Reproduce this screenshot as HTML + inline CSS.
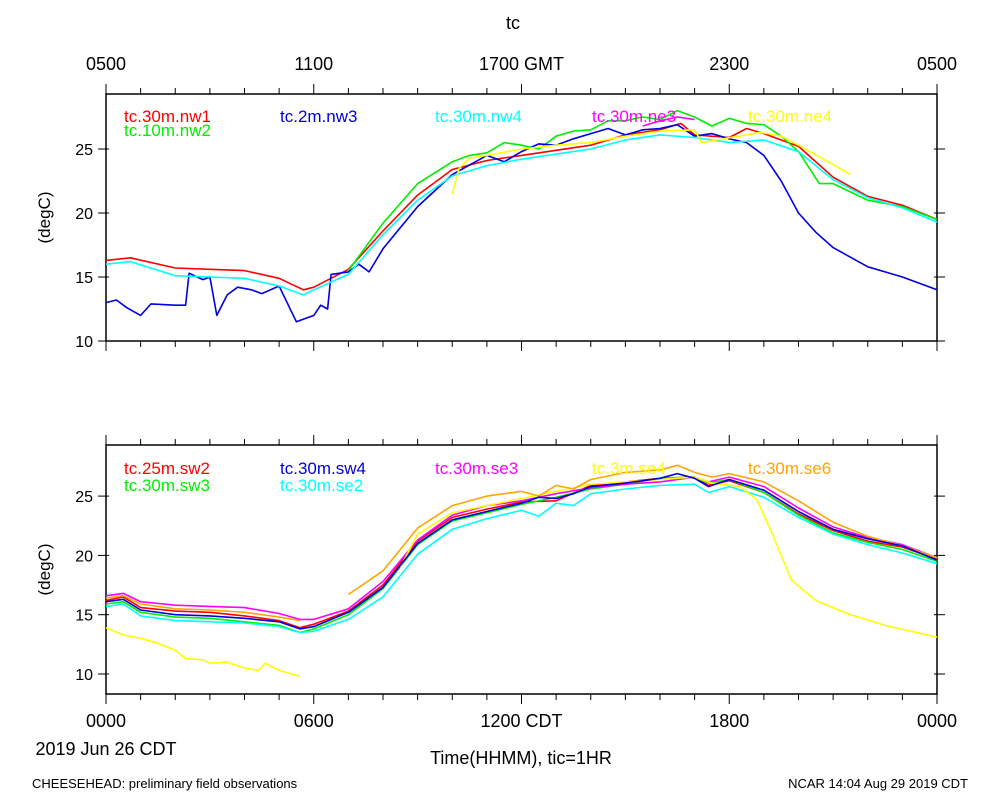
<!DOCTYPE html>
<html><head><meta charset="utf-8"><style>
html,body{margin:0;padding:0;background:#fff;}
svg{display:block;font-family:"Liberation Sans",sans-serif;}
</style></head><body>
<svg id="chart" width="1000" height="800" viewBox="0 0 1000 800">
<rect width="1000" height="800" fill="#fff"/>
<text x="513" y="29" font-size="18" text-anchor="middle">tc</text>
<g id="topaxis"></g>
<g id="p1"></g>
<g id="p2"></g>
<g id="botaxis"></g>
<text x="106" y="755" font-size="18" text-anchor="middle">2019 Jun 26 CDT</text>
<text x="521" y="764" font-size="18" text-anchor="middle">Time(HHMM), tic=1HR</text>
<text x="32" y="788" font-size="13">CHEESEHEAD: preliminary field observations</text>
<text x="968" y="788" font-size="13" text-anchor="end">NCAR 14:04 Aug 29 2019 CDT</text>
</svg>
<script>
// ---- data ----
const gmtTickLabels = ["0500","1100","1700 GMT","2300","0500"];
const cdtTickLabels = ["0000","0600","1200 CDT","1800","0000"];
const yTicks = [10,15,20,25];

// top panel
const nw1Hours = [0,0.7,2,3,4,5,5.7,6,7,8,9,10,11,12,13,14,15,16,16.6,17,18,18.5,19,20,21,22,23,24];
const nw1Temps = [16.3,16.5,15.7,15.6,15.5,14.9,14.0,14.2,15.6,18.6,21.4,23.4,24.1,24.5,24.9,25.3,26.1,26.5,27.0,26.1,25.9,26.6,26.2,25.2,22.8,21.3,20.6,19.5];
const nw2Hours = [7,8,9,10,10.5,11,11.5,12,12.5,13,13.5,14,14.5,15,15.5,16,16.5,17,17.5,18,18.5,19,19.5,20,20.6,21,22,23,24];
const nw2Temps = [15.5,19.2,22.3,24.0,24.5,24.7,25.5,25.3,25.0,26.0,26.4,26.5,27.2,27.2,27.5,27.3,28.0,27.5,26.8,27.4,27.0,26.9,26.0,24.8,22.3,22.3,21.0,20.5,19.5];
const nw3Hours = [0,0.3,0.6,1,1.3,2,2.3,2.4,2.8,3,3.2,3.5,3.8,4.2,4.5,5,5.5,6,6.2,6.4,6.5,7,7.3,7.6,8,9,10,11,11.5,12,12.5,13,13.5,14,14.5,15,15.5,16,16.5,17,17.5,18,18.5,19,19.5,20,20.5,21,22,23,24];
const nw3Temps = [13.0,13.2,12.6,12.0,12.9,12.8,12.8,15.3,14.8,15.0,12.0,13.6,14.2,14.0,13.7,14.3,11.5,12.0,12.8,12.5,15.2,15.4,16.0,15.4,17.2,20.5,23.0,24.5,24.0,24.8,25.4,25.3,25.8,26.2,26.6,26.1,26.5,26.6,26.9,26.0,26.2,25.8,25.5,24.5,22.5,20.0,18.5,17.3,15.8,15.0,14.0];
const nw4Hours = [0,0.7,2,3,4,5,5.7,6,7,8,9,10,11,12,13,14,15,16,17,18,19,20,21,22,23,24];
const nw4Temps = [16.0,16.2,15.1,15.0,14.9,14.3,13.6,14.0,15.2,18.3,21.0,22.9,23.7,24.2,24.6,25.0,25.7,26.1,25.9,25.5,25.7,24.8,22.6,21.2,20.4,19.3];
const ne3Hours = [15.5,16,16.5,17];
const ne3Temps = [26.8,27.2,27.5,27.3];
const ne4Hours = [10,10.2,10.5,11,12,13,14,15,16,17,17.2,18.9,19.5,20,21,21.5];
const ne4Temps = [21.5,23.5,24.3,24.5,25.0,25.3,25.5,26.0,26.4,26.5,25.5,26.3,26.0,25.3,23.8,23.0];

// bottom panel
const sw2Hours = [0,0.5,1,2,3,4,5,5.6,6,7,8,9,10,11,12,13,14,15,16,17,17.4,18,19,20,21,22,23,24];
const sw2Temps = [16.2,16.5,15.6,15.3,15.2,14.9,14.5,13.9,14.2,15.3,17.5,21.2,23.2,23.9,24.5,24.6,25.9,26.2,26.5,26.6,25.9,26.3,25.3,23.5,22.1,21.2,20.7,19.7];
const sw3Hours = [0,0.5,1,2,3,4,5,5.6,6,7,8,9,10,11,12,13,14,15,16,17,17.4,18,19,20,21,22,23,24];
const sw3Temps = [15.9,16.1,15.2,14.8,14.7,14.4,14.1,13.5,13.8,15.0,17.2,20.9,22.9,23.6,24.3,24.9,25.6,26.0,26.5,26.6,26.1,26.4,25.3,23.4,21.9,21.1,20.5,19.5];
const sw4Hours = [0,0.5,1,2,3,4,5,5.6,6,7,8,9,10,11,12,12.5,13,13.5,14,15,16,16.5,17,17.4,18,19,20,21,22,23,24];
const sw4Temps = [16.1,16.3,15.4,15.0,14.9,14.7,14.4,13.8,14.0,15.2,17.3,21.0,23.0,23.7,24.4,24.9,24.8,25.2,25.8,26.1,26.5,26.9,26.5,25.8,26.4,25.5,23.7,22.2,21.4,20.8,19.6];
const se2Hours = [0,0.5,1,2,3,4,5,5.6,6,7,8,9,10,11,12,12.5,13,13.5,14,15,16,17,17.4,18,19,20,21,22,23,24];
const se2Temps = [15.7,15.9,14.9,14.5,14.4,14.3,14.0,13.5,13.6,14.6,16.5,20.1,22.2,23.1,23.8,23.3,24.4,24.2,25.2,25.6,25.9,26.0,25.3,25.8,24.9,23.2,21.8,20.9,20.2,19.3];
const se3Hours = [0,0.5,1,2,3,4,5,5.6,6,7,8,9,10,11,12,13,14,15,16,17,17.4,18,19,20,21,22,23,24];
const se3Temps = [16.6,16.8,16.1,15.8,15.7,15.6,15.1,14.6,14.6,15.5,17.8,21.3,23.4,24.2,24.6,25.2,25.7,26.0,26.2,26.6,26.2,26.6,25.8,24.0,22.4,21.5,20.9,19.8];
const se4Hours = [0,0.5,1,1.5,2,2.3,2.8,3,3.5,4,4.4,4.6,5,5.6,null,8.5,9,10,11,12,13,14,15,16,17,17.5,18.3,18.8,19.2,19.8,20.5,21.5,22.5,24];
const se4Temps = [13.9,13.3,13.0,12.6,12.0,11.3,11.2,10.9,11.0,10.5,10.3,10.9,10.3,9.8,null,19.0,21.8,23.6,24.2,24.8,25.4,26.0,26.2,26.4,26.6,26.1,25.8,24.7,22.1,17.9,16.2,15.0,14.1,13.1];
const se6Hours = [0,0.5,1,2,3,4,5,5.6,null,7,8,9,10,11,12,12.5,13,13.5,14,15,16,16.5,17,17.5,18,19,20,21,22,23,24];
const se6Temps = [16.4,16.6,15.9,15.5,15.4,15.2,14.8,14.5,null,16.7,18.7,22.3,24.2,25.0,25.4,25.0,25.9,25.6,26.4,27.0,27.2,27.6,27.0,26.6,26.9,26.2,24.6,22.8,21.6,20.8,19.8];

// ---- drawing ----
const NS = "http://www.w3.org/2000/svg";
const X0 = 106, X1 = 937;
function xScale(h){ return X0 + (X1 - X0) * h / 24; }
const panels = {
  p1: {top: 94, bottom: 341, y10: 341, ppd: 12.8},
  p2: {top: 445, bottom: 694, y10: 674, ppd: 11.86}
};
function yScale(p, t){ return p.y10 - (t - 10) * p.ppd; }
function mk(tag, attrs, parent){
  const el = document.createElementNS(NS, tag);
  for (const k in attrs) el.setAttribute(k, attrs[k]);
  parent.appendChild(el);
  return el;
}
function drawPanel(id, series){
  const g = document.getElementById(id);
  const p = panels[id];
  const frame = mk("rect", {x: X0, y: p.top, width: X1 - X0, height: p.bottom - p.top, fill: "none", stroke: "#000", "stroke-width": 1.5}, g);
  
  
  for (let h = 0; h <= 24; h++) {
    const x = xScale(h);
    const len = h % 6 === 0 ? 10 : 6;
    const t1 = mk("line", {x1: x, x2: x, y1: p.top, y2: p.top - len, stroke: "#000"}, g);
    
    
    const t2 = mk("line", {x1: x, x2: x, y1: p.bottom, y2: p.bottom + len, stroke: "#000"}, g);
    
    
  }
  yTicks.forEach(v => {
    const y = yScale(p, v);
    const a = mk("line", {x1: X0 - 8, x2: X0 + 3, y1: y, y2: y, stroke: "#000"}, g);
    
    
    const b = mk("line", {x1: X1 - 3, x2: X1 + 8, y1: y, y2: y, stroke: "#000"}, g);
    
    
    const lab = mk("text", {x: X0 - 13, y: y + 6, "font-size": 16, "text-anchor": "end"}, g);
    lab.textContent = v;
    
    
  });
  const yt = mk("text", {x: 0, y: 0, "font-size": 17, "text-anchor": "middle", transform: "translate(50," + ((p.top + p.bottom) / 2) + ") rotate(-90)"}, g);
  yt.textContent = "(degC)";
  
  
  series.forEach(s => {
    let d = "", pen = false;
    for (let i = 0; i < s.hours.length; i++) {
      if (s.hours[i] === null || s.temps[i] === null) { pen = false; continue; }
      d += (pen ? "L" : "M") + xScale(s.hours[i]).toFixed(1) + "," + yScale(p, s.temps[i]).toFixed(1);
      pen = true;
    }
    const path = mk("path", {d: d, fill: "none", stroke: s.color, "stroke-width": 1.6, "stroke-linejoin": "round"}, g);
    
    
  });
  series.forEach(s => {
    const lt = mk("text", {x: s.lx, y: s.ly, "font-size": 17, fill: s.color}, g);
    lt.textContent = s.name;
    
    
  });
}
drawPanel("p1", [
  {name: "tc.30m.nw1", color: "#ff0000", hours: nw1Hours, temps: nw1Temps, lx: 124, ly: 122},
  {name: "tc.10m.nw2", color: "#00ee00", hours: nw2Hours, temps: nw2Temps, lx: 124, ly: 136},
  {name: "tc.2m.nw3", color: "#0000e0", hours: nw3Hours, temps: nw3Temps, lx: 280, ly: 122},
  {name: "tc.30m.nw4", color: "#00ffff", hours: nw4Hours, temps: nw4Temps, lx: 435, ly: 122},
  {name: "tc.30m.ne3", color: "#ff00ff", hours: ne3Hours, temps: ne3Temps, lx: 592, ly: 122},
  {name: "tc.30m.ne4", color: "#ffff00", hours: ne4Hours, temps: ne4Temps, lx: 748, ly: 122}
]);
drawPanel("p2", [
  {name: "tc.25m.sw2", color: "#ff0000", hours: sw2Hours, temps: sw2Temps, lx: 124, ly: 474},
  {name: "tc.30m.sw3", color: "#00ee00", hours: sw3Hours, temps: sw3Temps, lx: 124, ly: 491},
  {name: "tc.30m.se2", color: "#00ffff", hours: se2Hours, temps: se2Temps, lx: 280, ly: 491},
  {name: "tc.30m.se3", color: "#ff00ff", hours: se3Hours, temps: se3Temps, lx: 435, ly: 474},
  {name: "tc.3m.se4", color: "#ffff00", hours: se4Hours, temps: se4Temps, lx: 592, ly: 474},
  {name: "tc.30m.se6", color: "#ffa500", hours: se6Hours, temps: se6Temps, lx: 748, ly: 474},
  {name: "tc.30m.sw4", color: "#0000e0", hours: sw4Hours, temps: sw4Temps, lx: 280, ly: 474}
]);
const ta = document.getElementById("topaxis");
gmtTickLabels.forEach((l, i) => {
  const t = mk("text", {x: xScale(i * 6), y: 70, "font-size": 18, "text-anchor": "middle"}, ta);
  t.textContent = l;
  
  
});
const ba = document.getElementById("botaxis");
cdtTickLabels.forEach((l, i) => {
  const t = mk("text", {x: xScale(i * 6), y: 727, "font-size": 18, "text-anchor": "middle"}, ba);
  t.textContent = l;
  
  
});
</script>
</body></html>
